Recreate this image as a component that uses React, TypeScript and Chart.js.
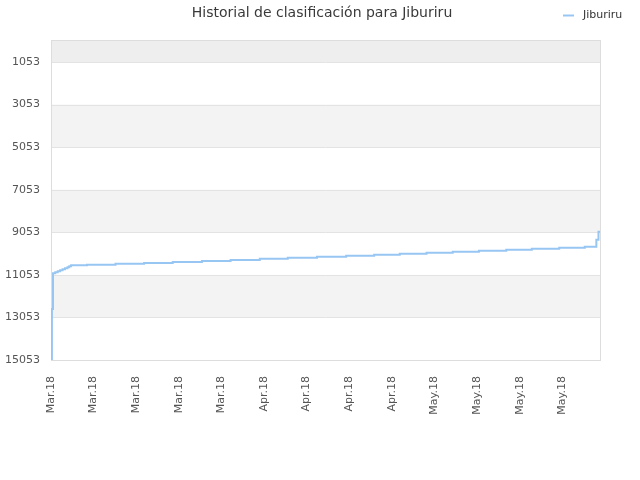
import { useEffect, useRef } from 'react'
import { Chart, registerables } from 'chart.js'

Chart.register(...registerables)

// days since 1 Mar 2018 and the ranking on that day
const days = [0, 0.15, 0.33, 0.7, 1.1, 1.5, 1.9, 2.3, 2.7, 3.0, 3.3, 5.9, 10.6, 15.3, 20.0, 24.8, 29.5, 34.3, 38.9, 43.7, 48.5, 53.1, 57.3, 61.7, 66.0, 70.3, 74.8, 79.0, 83.5, 87.7, 89.6, 89.95, 90.2]
const ranks = [15053, 12657, 10980, 10930, 10885, 10840, 10790, 10745, 10700, 10650, 10604, 10575, 10528, 10496, 10449, 10402, 10355, 10293, 10247, 10200, 10153, 10106, 10059, 10012, 9965, 9918, 9871, 9824, 9777, 9730, 9400, 9025, 9025]

const tickDays = [0, 7, 14, 21, 28, 35, 42, 49, 56, 63, 70, 77, 84]
const tickLabels = ['Mar.18', 'Mar.18', 'Mar.18', 'Mar.18', 'Mar.18', 'Apr.18', 'Apr.18', 'Apr.18', 'Apr.18', 'May.18', 'May.18', 'May.18', 'May.18']
const yTicks = [1053, 3053, 5053, 7053, 9053, 11053, 13053, 15053]

const title = 'Historial de clasificación para Jiburiru'
const seriesName = 'Jiburiru'
const lineColor = '#98c6f3'
const font = '"DejaVu Sans", Verdana, sans-serif'

const decor = {
  id: 'decor',
  beforeDatasetsDraw(chart: any) {
    const { ctx, chartArea: a, scales } = chart
    const y = scales.y
    ctx.save()
    // alternating bands, top band a bit darker
    const edges = [a.top, ...yTicks.map(v => y.getPixelForValue(v))]
    for (let i = 0; i < edges.length - 1; i++) {
      if (i % 2 === 0) {
        ctx.fillStyle = i === 0 ? '#eeeeee' : '#f3f3f3'
        ctx.fillRect(a.left, edges[i], a.right - a.left, edges[i + 1] - edges[i])
      }
    }
    ctx.strokeStyle = '#e3e3e3'
    ctx.lineWidth = 1
    yTicks.forEach(v => {
      const py = Math.round(y.getPixelForValue(v)) + 0.5
      ctx.beginPath()
      ctx.moveTo(a.left, py)
      ctx.lineTo(a.right, py)
      ctx.stroke()
    })
    ctx.strokeStyle = '#dddddd'
    ctx.strokeRect(Math.round(a.left) + 0.5, Math.round(a.top) + 0.5, Math.round(a.right - a.left), Math.round(a.bottom - a.top))
    ctx.restore()
  },
  afterDraw(chart: any) {
    const { ctx } = chart
    ctx.save()
    ctx.fillStyle = '#3a3a3a'
    ctx.font = `14px ${font}`
    ctx.textAlign = 'center'
    ctx.textBaseline = 'middle'
    ctx.fillText(title, 322, 13)
    ctx.strokeStyle = lineColor
    ctx.lineWidth = 2
    ctx.beginPath()
    ctx.moveTo(563, 15.5)
    ctx.lineTo(574, 15.5)
    ctx.stroke()
    ctx.fillStyle = '#333333'
    ctx.font = `11px ${font}`
    ctx.textAlign = 'left'
    ctx.fillText(seriesName, 583, 15)
    ctx.restore()
  },
}

export default function App() {
  const canvasRef = useRef<HTMLCanvasElement>(null)
  const chartRef = useRef<Chart | null>(null)

  useEffect(() => {
    if (!canvasRef.current) return
    chartRef.current?.destroy()

    chartRef.current = new Chart(canvasRef.current, {
      type: 'line',
      data: {
        datasets: [
          {
            label: seriesName,
            data: days.map((d, i) => ({ x: d, y: ranks[i] })),
            borderColor: lineColor,
            borderWidth: 2,
            pointRadius: 0,
            stepped: 'before',
            fill: false,
          },
        ],
      },
      options: {
        animation: false,
        responsive: false,
        devicePixelRatio: 1,
        layout: { padding: { top: 40, right: 40, left: 0, bottom: 0 } },
        plugins: {
          legend: { display: false },
          title: { display: false },
          tooltip: { enabled: false },
        },
        scales: {
          x: {
            type: 'linear',
            min: 0,
            max: 90.2,
            grid: { display: false, drawTicks: false },
            border: { display: false },
            afterBuildTicks: (s: any) => { s.ticks = tickDays.map(v => ({ value: v })) },
            afterFit: (s: any) => { s.height = 120 },
            ticks: {
              autoSkip: false,
              minRotation: 90,
              maxRotation: 90,
              padding: 16,
              color: '#555555',
              font: { family: font, size: 11 },
              callback: (v: any) => tickLabels[tickDays.indexOf(Number(v))] ?? '',
            },
          },
          y: {
            reverse: true,
            min: 20,
            max: 15053,
            grid: { display: false, drawTicks: false },
            border: { display: false },
            afterBuildTicks: (s: any) => { s.ticks = yTicks.map(v => ({ value: v })) },
            afterFit: (s: any) => { s.width = 51 },
            ticks: {
              padding: 11,
              color: '#555555',
              font: { family: font, size: 11 },
              callback: (v: any) => String(v),
            },
          },
        },
      },
      plugins: [decor],
    })

    return () => { chartRef.current?.destroy() }
  }, [])

  return (
    <div style={{ position: 'fixed', left: 0, top: 0, width: 640, height: 480, background: '#fff' }}>
      <canvas ref={canvasRef} width={640} height={480} />
    </div>
  )
}
